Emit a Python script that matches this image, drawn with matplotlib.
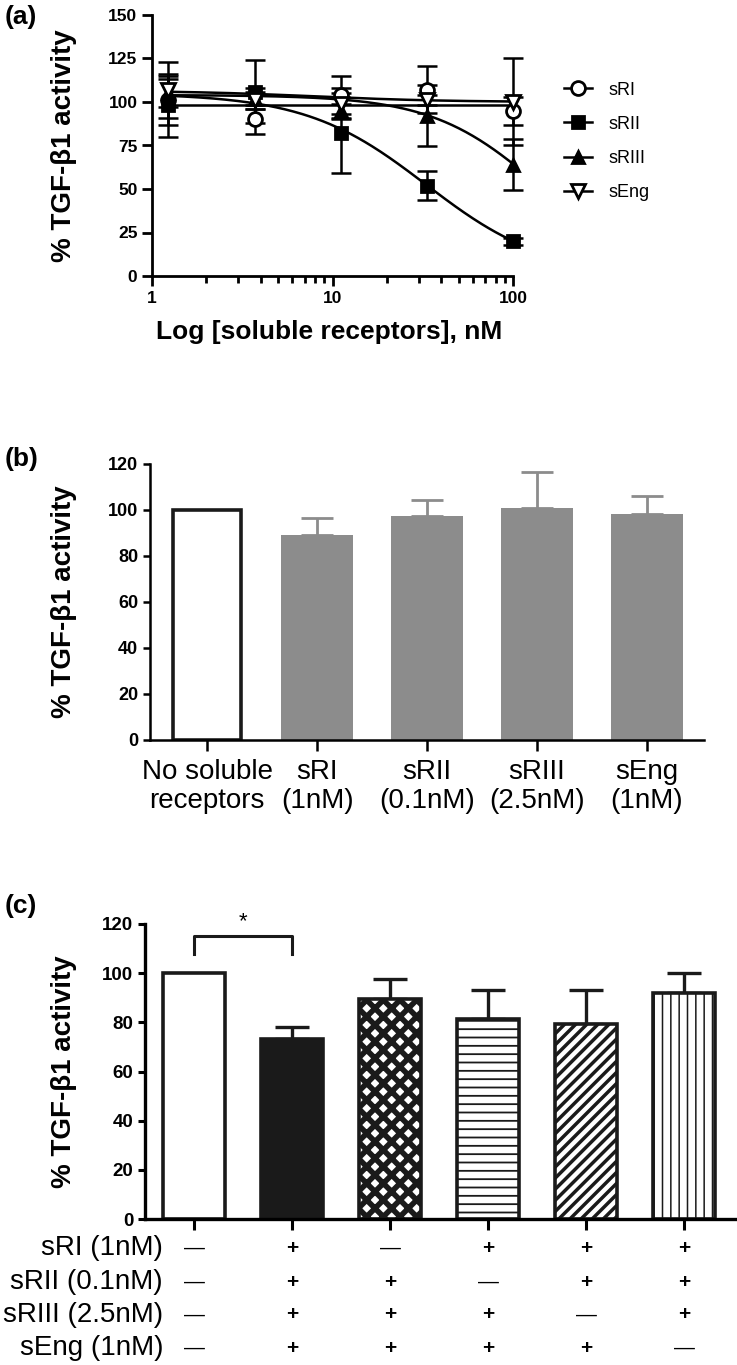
import numpy as np
import matplotlib
matplotlib.use('Agg')
import matplotlib.pyplot as plt
from matplotlib.lines import Line2D

plt.rcParams['font.family'] = ['Liberation Sans', 'DejaVu Sans']

###############################################################################
#                               data
###############################################################################
# (a) dose response
conc = [1.23, 3.70, 11.1, 33.3, 100]
series_names = ['sRI', 'sRII', 'sRIII', 'sEng']
sRI_mean = [101, 90, 104, 107, 95]
sRI_err = [14, 8.5, 11, 13.5, 8]
sRII_mean = [98, 106, 82, 52, 20]
sRII_err = [18, 18, 23, 8.5, 2]
sRIII_mean = [105, 102, 95, 92, 64]
sRIII_err = [8, 6, 4, 17.5, 14.5]
sEng_mean = [107, 101, 99, 101, 100]
sEng_err = [16, 5, 9, 3, 25]
# fitted curves: top, bottom, IC50, hill
sRI_fit = [98, 98, 10, 1.0]
sRII_fit = [105, 0, 33, 1.3]
sRIII_fit = [104, 0, 140, 1.45]
sEng_fit = [106.5, 100, 8, 1.2]

# (b) single receptors
b_labels = ['No soluble\nreceptors', 'sRI\n(1nM)', 'sRII\n(0.1nM)',
            'sRIII\n(2.5nM)', 'sEng\n(1nM)']
b_mean = [100, 89, 97.5, 101, 98.1]
b_err = [0, 7.5, 6.8, 15.7, 8]

# (c) combinations
c_mean = [100, 73.2, 89.5, 81.2, 79.5, 91.8]
c_err = [0, 4.8, 8.1, 12, 13.7, 8.2]
c_rows = ['sRI (1nM)', 'sRII (0.1nM)', 'sRIII (2.5nM)', 'sEng (1nM)']
c_table = [['—', '+', '—', '+', '+', '+'],
           ['—', '+', '+', '—', '+', '+'],
           ['—', '+', '+', '+', '—', '+'],
           ['—', '+', '+', '+', '+', '—']]

W, H = 737, 1365
fig = plt.figure(figsize=(W / 100, H / 100), dpi=100)


def box(l, r, t, b):
    return [l / W, 1 - b / H, (r - l) / W, (b - t) / H]


def fourpl(x, p):
    top, bottom, ic50, hill = p
    return bottom + (top - bottom) / (1 + (x / ic50) ** hill)


###############################################################################
#                               (a)
###############################################################################
ax = fig.add_axes(box(152, 513, 15, 276))
for s in ['top', 'right']:
    ax.spines[s].set_visible(False)
for s in ['left', 'bottom']:
    ax.spines[s].set_linewidth(2)
ax.set_xscale('log')
ax.set_xlim(1, 100)
ax.set_ylim(0, 150)
ax.set_yticks([0, 25, 50, 75, 100, 125, 150])
ax.set_xticks([1, 10, 100])
ax.set_xticklabels(['1', '10', '100'])
ax.tick_params(which='major', width=2, length=7, labelsize=12.5)
ax.tick_params(which='minor', width=2, length=5)
ax.tick_params(axis='x', pad=4)
for t in ax.get_xticklabels() + ax.get_yticklabels():
    t.set_fontweight('bold')

xs = np.geomspace(1.2, 100, 200)
styles = [
    ('o', 'white', sRI_mean, sRI_err, sRI_fit, 10),
    ('s', 'black', sRII_mean, sRII_err, sRII_fit, 9),
    ('^', 'black', sRIII_mean, sRIII_err, sRIII_fit, 9),
    ('v', 'white', sEng_mean, sEng_err, sEng_fit, 9.5),
]
handles = []
for name, (m, fc, mean, err, fit, ms) in zip(series_names, styles):
    ax.plot(xs, fourpl(xs, fit), color='black', lw=1.8, zorder=2)
    eb = ax.errorbar(conc, mean, yerr=err, fmt='none', ecolor='black',
                     elinewidth=1.8, capsize=7, capthick=1.8, zorder=3)
    for art in eb.lines[1] + eb.lines[2]:
        art.set_clip_on(False)
    ax.plot(conc, mean, m, ms=ms, mfc=fc, mec='black', mew=2, zorder=4,
            clip_on=False)
    handles.append(Line2D([], [], color='black', lw=1.8, marker=m, ms=ms,
                          mfc=fc, mec='black', mew=2))
ax.legend(handles, series_names, loc='upper left', frameon=False,
          bbox_to_anchor=(1.14, 0.745), borderpad=0, borderaxespad=0,
          handlelength=1.6, handletextpad=0.9, labelspacing=0.95,
          prop={'size': 13})
ax.set_ylabel('% TGF-β1 activity', fontsize=20, fontweight='bold')
ax.yaxis.set_label_coords(-0.208, 0.5)
ax.set_xlabel('Log [soluble receptors], nM', fontsize=19, fontweight='bold')
ax.xaxis.set_label_coords(0.49, -0.17)

###############################################################################
#                               (b)
###############################################################################
ax = fig.add_axes(box(150, 704, 464, 740))
for s in ['top', 'right']:
    ax.spines[s].set_visible(False)
for s in ['left', 'bottom']:
    ax.spines[s].set_linewidth(1.8)
xb = np.arange(len(b_mean))
gray = '#8c8c8c'
ax.bar(xb[1:], b_mean[1:], width=0.66, color=gray, zorder=2)
ax.bar(xb[:1], b_mean[:1], width=0.62, color='white', edgecolor='#1a1a1a',
       lw=2.6, zorder=2)
ax.errorbar(xb[1:], b_mean[1:], yerr=[[0] * 4, b_err[1:]], fmt='none',
            ecolor=gray, elinewidth=2, capsize=11.5, capthick=2, zorder=1)
ax.set_xlim(-0.52, 4.52)
ax.set_ylim(0, 120)
ax.set_yticks(range(0, 121, 20))
ax.set_xticks(xb)
ax.set_xticklabels(b_labels, fontsize=20, linespacing=1.15)
ax.tick_params(axis='y', width=1.8, length=5, labelsize=13)
ax.tick_params(axis='x', width=1.8, length=8, pad=6)
for t in ax.get_yticklabels():
    t.set_fontweight('bold')
ax.set_ylabel('% TGF-β1 activity', fontsize=20, fontweight='bold')
ax.yaxis.set_label_coords(-0.132, 0.5)

###############################################################################
#                               (c)
###############################################################################
ax = fig.add_axes(box(145, 735, 924, 1219))
for s in ['top', 'right']:
    ax.spines[s].set_visible(False)
for s in ['left', 'bottom']:
    ax.spines[s].set_linewidth(2.4)
xc = np.arange(len(c_mean))
faces = ['white', '#1a1a1a', 'white', 'white', 'white', 'white']
hatches = [None, None, 'xx', '--', '///', '||']
hatch_lw = [1, 1, 4.0, 1.3, 2.5, 1.1]
for i in range(len(c_mean)):
    plt.rcParams['hatch.linewidth'] = hatch_lw[i]
    bars = ax.bar(xc[i], c_mean[i], width=0.64, color=faces[i],
                  edgecolor='#1a1a1a', lw=2.6, hatch=hatches[i], zorder=2)
    for p in bars:
        if hasattr(p, 'set_hatch_linewidth'):
            p.set_hatch_linewidth(hatch_lw[i])
ax.errorbar(xc[1:], c_mean[1:], yerr=[[0] * 5, c_err[1:]], fmt='none',
            ecolor='#1a1a1a', elinewidth=2.4, capsize=12, capthick=2.4,
            zorder=1)
ax.set_xlim(-0.5, 5.52)
ax.set_ylim(0, 120)
ax.set_yticks(range(0, 121, 20))
ax.set_xticks(xc)
ax.set_xticklabels([])
ax.tick_params(axis='y', width=2.2, length=5, labelsize=13.5)
ax.tick_params(axis='x', width=2.2, length=8)
for t in ax.get_yticklabels():
    t.set_fontweight('bold')
ax.set_ylabel('% TGF-β1 activity', fontsize=20, fontweight='bold')
ax.yaxis.set_label_coords(-0.115, 0.5)

# significance bracket
ax.plot([0, 0, 1, 1], [108, 115, 115, 108], color='#1a1a1a', lw=2.2,
        clip_on=False)
ax.text(0.5, 116.5, '*', ha='center', va='bottom', fontsize=16)

# combination table
trans = ax.get_xaxis_transform()
row_y = [1248, 1282, 1315, 1348]
for r, label in enumerate(c_rows):
    yy = 1 - row_y[r] / H
    fig.text(163 / W, yy, label, ha='right', va='center', fontsize=20)
    for i, sym in enumerate(c_table[r]):
        ax.text(xc[i], (1219 - row_y[r]) / (1219 - 924), sym,
                transform=trans, ha='center', va='center',
                fontsize=15, fontweight='bold' if sym == '+' else 'normal')

###############################################################################
#                               panel labels
###############################################################################
for lab, yy in [('(a)', 17), ('(b)', 459), ('(c)', 906)]:
    fig.text(5 / W, 1 - yy / H, lab, ha='left', va='center', fontsize=19,
             fontweight='bold')

plt.savefig('out.png', dpi=100)
plt.close(fig)
